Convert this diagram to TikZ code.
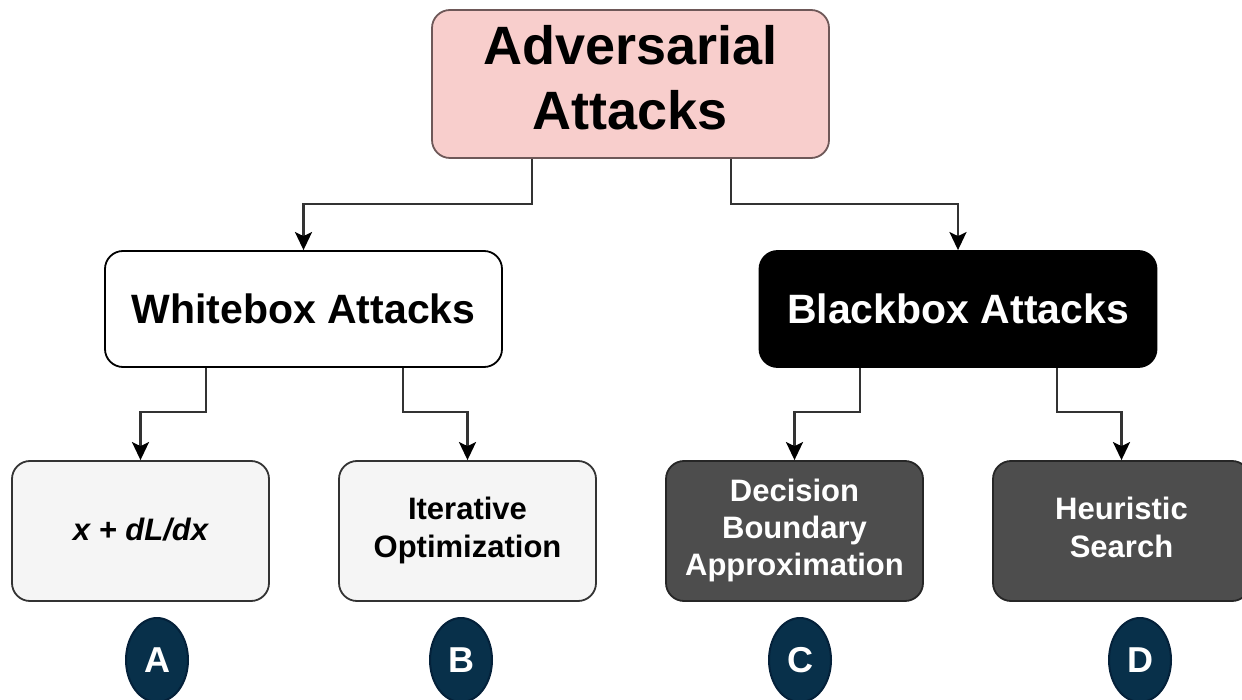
\documentclass[tikz,border=0pt]{standalone}
\usepackage{fontspec}
\setmainfont{Liberation Sans}
\usetikzlibrary{arrows.meta,shapes.geometric}

\definecolor{rootfill}{HTML}{F8CECC}
\definecolor{rootline}{HTML}{6E5858}
\definecolor{lightfill}{HTML}{F5F5F5}
\definecolor{darkfill}{HTML}{4D4D4D}
\definecolor{badgefill}{HTML}{08304A}
\definecolor{badgeline}{HTML}{04213A}
\definecolor{wire}{HTML}{333333}

\begin{document}
\begin{tikzpicture}[x=1pt,y=-1pt,
  box/.style={draw, rounded corners=18pt, line width=1.8pt, align=center,
    inner sep=0pt, font=\bfseries},
  rootbox/.style={box, fill=rootfill, draw=rootline, minimum width=397pt,
    minimum height=148pt, font=\bfseries\fontsize{54}{64}\selectfont},
  midbox/.style={box, minimum width=397pt, minimum height=116pt,
    font=\bfseries\fontsize{41}{48}\selectfont},
  leafbox/.style={box, minimum width=257pt, minimum height=140pt,
    font=\bfseries\fontsize{31}{37}\selectfont},
  lightleaf/.style={leafbox, fill=lightfill, draw=black!80},
  darkleaf/.style={leafbox, fill=darkfill, draw=black!85, text=white},
  badge/.style={ellipse, fill=badgefill, draw=badgeline, line width=2pt,
    minimum width=62pt, minimum height=84pt, inner sep=0pt, text=white,
    font=\bfseries\fontsize{36}{40}\selectfont},
  conn/.style={draw=wire, line width=2.3pt,
    -{Stealth[length=18pt, width=17pt, inset=4pt, color=black]}}
]
\useasboundingbox (0,0) rectangle (1242,700);

% hierarchy boxes
\node[rootbox] (root) at (630.5,84) {\raisebox{4pt}{\begin{tabular}{@{}c@{}}Adversarial\\[1pt]Attacks\end{tabular}}};
\node[midbox, fill=white, draw=black] (white) at (303.5,309) {Whitebox Attacks};
\node[midbox, fill=black, draw=black, text=white] (black) at (958,309) {Blackbox Attacks};

\node[lightleaf] (grad) at (140.5,531) {\raisebox{4pt}{\itshape x + dL/dx}};
\node[lightleaf] (iter) at (467.5,531) {\raisebox{3pt}{\begin{tabular}{@{}c@{}}Iterative\\[1pt]Optimization\end{tabular}}};
\node[darkleaf] (dba) at (794.5,531) {\raisebox{3pt}{\begin{tabular}{@{}c@{}}Decision\\Boundary\\Approximation\end{tabular}}};
\node[darkleaf] (heur) at (1121.5,531) {\raisebox{3pt}{\begin{tabular}{@{}c@{}}Heuristic\\[1pt]Search\end{tabular}}};

% letter badges
\node[badge] (ba) at (157,660) {A};
\node[badge] (bb) at (461,660) {B};
\node[badge] (bc) at (800,660) {C};
\node[badge] (bd) at (1140,660) {D};

% elbow connectors
\draw[conn] ([xshift=-98.5pt]root.south) |- ([yshift=46pt]white.north) -- (white.north);
\draw[conn] ([xshift=100.5pt]root.south) |- ([yshift=46pt]black.north) -- (black.north);
\draw[conn] ([xshift=-97.5pt]white.south) |- ([yshift=48pt]grad.north) -- (grad.north);
\draw[conn] ([xshift=99.5pt]white.south) |- ([yshift=48pt]iter.north) -- (iter.north);
\draw[conn] ([xshift=-98pt]black.south) |- ([yshift=48pt]dba.north) -- (dba.north);
\draw[conn] ([xshift=99pt]black.south) |- ([yshift=48pt]heur.north) -- (heur.north);
\end{tikzpicture}
\end{document}
